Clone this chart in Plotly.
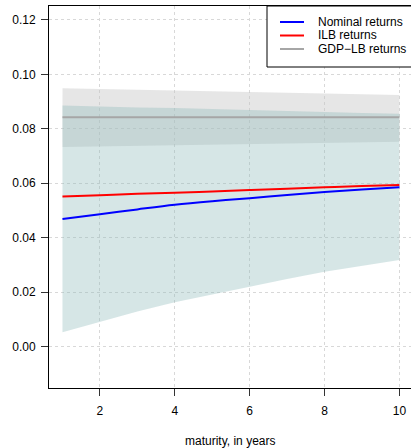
import plotly.graph_objects as go

maturity = [1, 2, 3, 4, 5, 6, 7, 8, 9, 10]
nominal = [0.0469, 0.0486, 0.0504, 0.0521, 0.0534, 0.0545, 0.0557, 0.0568, 0.0577, 0.0585]
nominal_lo = [0.0053, 0.0092, 0.0129, 0.0163, 0.0193, 0.0220, 0.0248, 0.0275, 0.0297, 0.0318]
nominal_hi = [0.0886, 0.0881, 0.0878, 0.0876, 0.0873, 0.0870, 0.0866, 0.0862, 0.0858, 0.0855]
ilb = [0.0551, 0.0556, 0.0561, 0.0565, 0.0570, 0.0575, 0.0580, 0.0585, 0.0590, 0.0594]
gdp = [0.0842] * 10
gdp_lo = [0.0733, 0.0735, 0.0737, 0.0740, 0.0742, 0.0744, 0.0746, 0.0748, 0.0750, 0.0752]
gdp_hi = [0.0949, 0.0946, 0.0943, 0.0941, 0.0938, 0.0935, 0.0933, 0.0930, 0.0927, 0.0924]

x_ticks = [2, 4, 6, 8, 10]
y_ticks = [0.00, 0.02, 0.04, 0.06, 0.08, 0.10, 0.12]
y_labels = ["0.00", "0.02", "0.04", "0.06", "0.08", "0.10", "0.12"]

legend_names = ["Nominal returns", "ILB returns", "GDP\u2212LB returns"]
legend_colors = ["#0000FF", "#FF0000", "#A6A6A6"]

FONT = "Liberation Sans, Arial, Helvetica, sans-serif"
FS = 12

fig = go.Figure()

# GDP band (grey)
fig.add_trace(go.Scatter(x=maturity + maturity[::-1], y=gdp_hi + gdp_lo[::-1],
                         fill="toself", fillcolor="rgba(200,200,200,0.45)",
                         line=dict(width=0), mode="lines", hoverinfo="skip", showlegend=False))
# Nominal band (teal)
fig.add_trace(go.Scatter(x=maturity + maturity[::-1], y=nominal_hi + nominal_lo[::-1],
                         fill="toself", fillcolor="rgba(141,186,186,0.36)",
                         line=dict(width=0), mode="lines", hoverinfo="skip", showlegend=False))

fig.add_trace(go.Scatter(x=maturity, y=gdp, mode="lines", line=dict(color=legend_colors[2], width=2),
                         line_shape="spline", showlegend=False))
fig.add_trace(go.Scatter(x=maturity, y=nominal, mode="lines", line=dict(color=legend_colors[0], width=2),
                         line_shape="spline", showlegend=False))
fig.add_trace(go.Scatter(x=maturity, y=ilb, mode="lines", line=dict(color=legend_colors[1], width=2),
                         line_shape="spline", showlegend=False))

L, T, B = 49, 6, 388
W, H = 411, 448
pw = W - L
ph = B - T

def px(xp):
    return (xp - L) / pw

def py(yp):
    return (B - yp) / ph

shapes = []
annotations = []
# legend box
shapes.append(dict(type="rect", xref="paper", yref="paper", x0=px(267), x1=px(413),
                   y0=py(67), y1=py(6), line=dict(color="black", width=1), fillcolor="white", layer="above"))
rows = [22, 35.5, 49]
for name, col, ry in zip(legend_names, legend_colors, rows):
    shapes.append(dict(type="line", xref="paper", yref="paper", x0=px(280), x1=px(304),
                       y0=py(ry), y1=py(ry), line=dict(color=col, width=2), layer="above"))
    annotations.append(dict(text=name, xref="paper", yref="paper", x=px(316), y=py(ry),
                            xanchor="left", yanchor="middle", showarrow=False,
                            font=dict(family=FONT, size=FS, color="black")))

annotations.append(dict(text="maturity, in years", xref="paper", yref="paper", x=px(230), y=py(441),
                        xanchor="center", yanchor="middle", showarrow=False,
                        font=dict(family=FONT, size=FS, color="black")))

fig.update_layout(
    width=W, height=H,
    margin=dict(l=L, r=0, t=T, b=H - B, pad=0),
    paper_bgcolor="white", plot_bgcolor="white",
    font=dict(family=FONT, size=FS, color="black"),
    showlegend=False,
    shapes=shapes, annotations=annotations,
    xaxis=dict(range=[0.64, 10.31], tickvals=x_ticks, ticks="outside", ticklen=7, tickcolor="#333",
               showline=True, linecolor="black", linewidth=1, mirror=True,
               showgrid=True, gridcolor="#D8D8D8", griddash="dot", gridwidth=1,
               zeroline=False, ticklabelstandoff=5,
               tickfont=dict(size=FS, family=FONT, color="black")),
    yaxis=dict(range=[-0.0152, 0.1251], tickvals=y_ticks, ticktext=y_labels, ticks="outside", ticklen=7,
               tickcolor="#333", showline=True, linecolor="black", linewidth=1, mirror=False,
               showgrid=True, gridcolor="#D8D8D8", griddash="dot", gridwidth=1,
               zeroline=False, ticklabelstandoff=3,
               tickfont=dict(size=FS, family=FONT, color="black")),
)

fig.write_html("out.html")
